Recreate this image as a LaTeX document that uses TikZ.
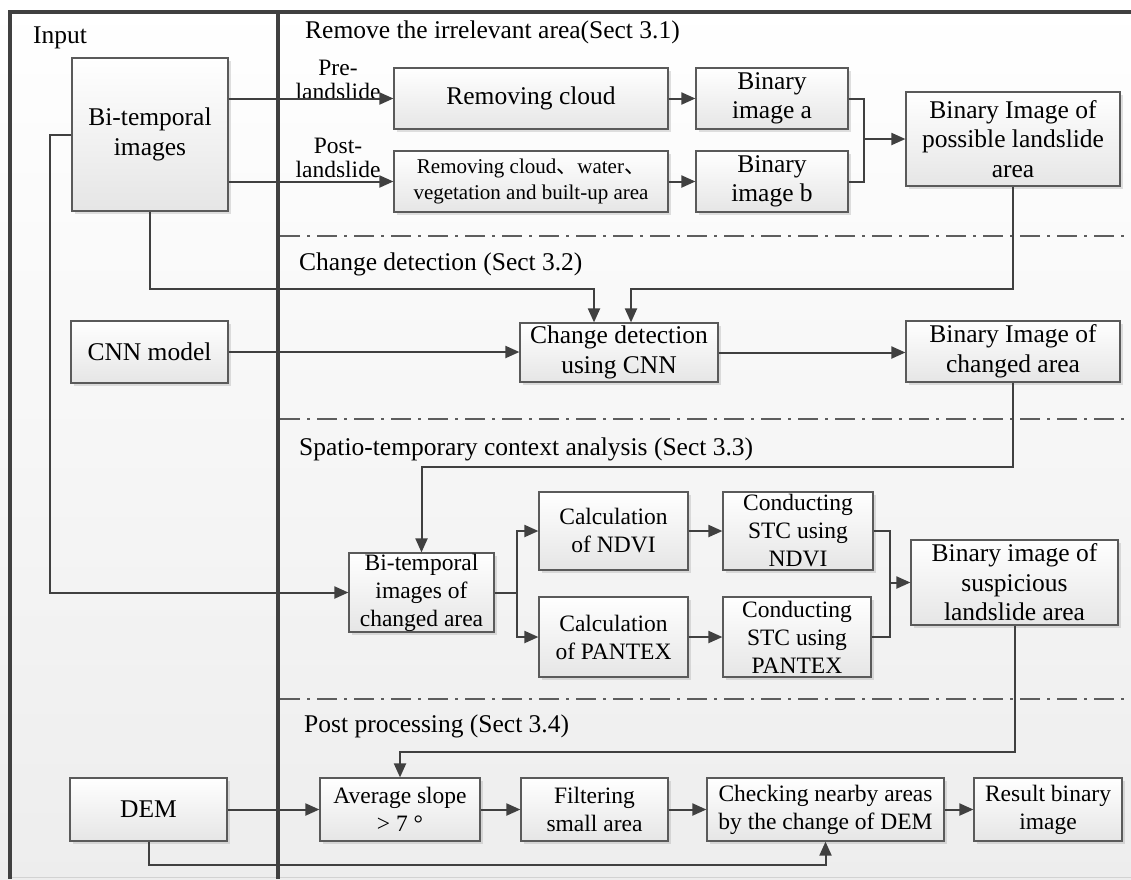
\documentclass[tikz,border=0pt]{standalone}
\usepackage{fontspec}
\setmainfont{Liberation Serif}
\newfontfamily\cjkfont{Noto Sans CJK SC}
\usetikzlibrary{arrows.meta,shadows,calc}
\definecolor{lncol}{HTML}{404040}
\definecolor{bdcol}{HTML}{5A5A5A}
\newcommand\fL{\fontsize{25.5}{29.5}\selectfont}
\newcommand\fM{\fontsize{23.5}{28}\selectfont}
\newcommand\fS{\fontsize{21}{26}\selectfont}
\newcommand\fT{\fontsize{23.5}{24.5}\selectfont}
\begin{document}
\begin{tikzpicture}[x=1pt,y=-1pt,
  box/.style={draw=bdcol, line width=1.2pt, top color=white, bottom color=gray!20,
    drop shadow={shadow xshift=2.5pt, shadow yshift=-2.5pt, opacity=0.3, fill=gray!80},
    inner sep=0pt, align=center, font=\fL},
  mbox/.style={box, font=\fM},
  conn/.style={draw=lncol, line width=2pt},
  arr/.style={conn, -{Triangle[length=14pt,width=12pt]}},
  sepline/.style={draw=lncol!85, line width=1.8pt, dash pattern=on 20pt off 7pt on 3pt off 7pt},
  framelines/.style={draw=lncol, line width=3.4pt},
  sectitle/.style={anchor=base west, font=\fL, inner sep=0pt},
  lbl/.style={font=\fT, align=center, inner sep=0pt}]
\useasboundingbox (0,0) rectangle (1131,879);
\shade[top color=white, bottom color=gray!14] (0,0) rectangle (1131,879);
% section separators
\draw[sepline] (280,236) -- (1131,236);
\draw[sepline] (280,419) -- (1131,419);
\draw[sepline] (280,699) -- (1131,699);
% frame
\draw[gray!35, line width=1pt] (10,877.5) -- (1131,877.5);
\draw[framelines] (1131,12) -- (10,12) -- (10,879);
\draw[framelines] (278,12) -- (278,879);
% titles
\node[sectitle] (tin) at (33,43) {Input};
\node[sectitle] (t1) at (305,38) {Remove the irrelevant area(Sect 3.1)};
\node[sectitle] (t2) at (299,270) {Change detection (Sect 3.2)};
\node[sectitle] (t3) at (299,455) {Spatio-temporary context analysis (Sect 3.3)};
\node[sectitle] (t4) at (304,732) {Post processing (Sect 3.4)};
% boxes
\node[box, minimum width=156pt, minimum height=153pt] (bi) at (150,134.5) {Bi-temporal\\images};
\node[box, minimum width=157pt, minimum height=62pt] (cnn) at (149.5,352) {CNN model};
\node[box, minimum width=157pt, minimum height=63pt] (dem) at (148.5,809.5) {DEM};
\node[box, minimum width=274pt, minimum height=61pt] (rc) at (531,98.5) {Removing cloud};
\node[box, font=\fS, minimum width=274pt, minimum height=61pt] (rcw) at (531,181.5) {Removing cloud{\cjkfont 、}water{\cjkfont 、}\\vegetation and built-up area};
\node[box, minimum width=152pt, minimum height=61pt] (ba) at (772,98.5) {Binary\\image a};
\node[box, minimum width=152pt, minimum height=61pt] (bb) at (772,181.5) {Binary\\image b};
\node[box, minimum width=214pt, minimum height=94pt] (bp) at (1013,139) {Binary Image of\\possible landslide\\area};
\node[box, minimum width=198pt, minimum height=59pt] (cd) at (619,352.5) {Change detection\\using CNN};
\node[box, minimum width=214pt, minimum height=61pt] (bc) at (1013,351.5) {Binary Image of\\changed area};
\node[mbox, minimum width=145pt, minimum height=79pt] (btc) at (421.5,592.5) {Bi-temporal\\images of\\changed area};
\node[mbox, minimum width=149pt, minimum height=78pt] (cn) at (613.5,531) {Calculation\\of NDVI};
\node[mbox, minimum width=150pt, minimum height=78pt] (sn) at (798,531) {Conducting\\STC using\\NDVI};
\node[mbox, minimum width=149pt, minimum height=80pt] (cp) at (613.5,637) {Calculation\\of PANTEX};
\node[mbox, minimum width=148pt, minimum height=80pt] (sp) at (797,637) {Conducting\\STC using\\PANTEX};
\node[box, minimum width=207pt, minimum height=85pt] (bs) at (1014.5,582.5) {Binary image of\\suspicious\\landslide area};
\node[mbox, minimum width=160pt, minimum height=63pt] (as) at (400,809.5) {Average slope\\> 7 °};
\node[mbox, minimum width=147pt, minimum height=63pt] (fs) at (594.5,809.5) {Filtering\\small area};
\node[mbox, minimum width=237pt, minimum height=63pt] (ck) at (825.5,809.5) {Checking nearby areas\\by the change of DEM};
\node[mbox, minimum width=148pt, minimum height=63pt] (rb) at (1048,809.5) {Result binary\\image};
% labels
\node[lbl] (lpre) at (338,80) {Pre-\\landslide};
\node[lbl] (lpost) at (338,158) {Post-\\landslide};
% bend coordinates
\coordinate (r1) at (594,289);
\coordinate (r2) at (631,289);
\coordinate (r3) at (421.5,467);
\coordinate (r4) at (400,752);
\coordinate (r5) at (825.5,865);
\coordinate (l1) at (50,592.5);
\coordinate (j1) at (864,139);
\coordinate (s1) at (517,592.5);
\coordinate (m1) at (890,582.5);
% connectors
\draw[arr] (bi.east |- rc.west) -- (rc.west);
\draw[arr] (bi.east |- rcw.west) -- (rcw.west);
\draw[arr] (rc.east) -- (ba.west);
\draw[arr] (rcw.east) -- (bb.west);
\draw[conn] (ba.east) -| (j1) |- (bb.east);
\draw[arr] (j1) -- (bp.west);
\draw[arr] (bi.south) |- (r1) -- (r1 |- cd.north);
\draw[arr] (bp.south) |- (r2) -- (r2 |- cd.north);
\draw[arr] (cnn.east) -- (cnn.east -| cd.west);
\draw[arr] (cd.east) -- (cd.east -| bc.west);
\draw[arr] (bc.south) |- (r3) -- (btc.north);
\draw[arr] (bi.west) -| (l1) -- (btc.west);
\draw[conn] (btc.east) -- (s1);
\draw[arr] (s1) |- (cn.west);
\draw[arr] (s1) |- (cp.west);
\draw[arr] (cn.east) -- (sn.west);
\draw[arr] (cp.east) -- (sp.west);
\draw[conn] (sn.east) -| (m1) |- (sp.east);
\draw[arr] (m1) -- (bs.west);
\draw[arr] (bs.south) |- (r4) -- (as.north);
\draw[arr] (dem.east) -- (dem.east -| as.west);
\draw[arr] (as.east) -- (fs.west);
\draw[arr] (fs.east) -- (ck.west);
\draw[arr] (ck.east) -- (rb.west);
\draw[arr] (dem.south) |- (r5) -- (ck.south);
\end{tikzpicture}
\end{document}
